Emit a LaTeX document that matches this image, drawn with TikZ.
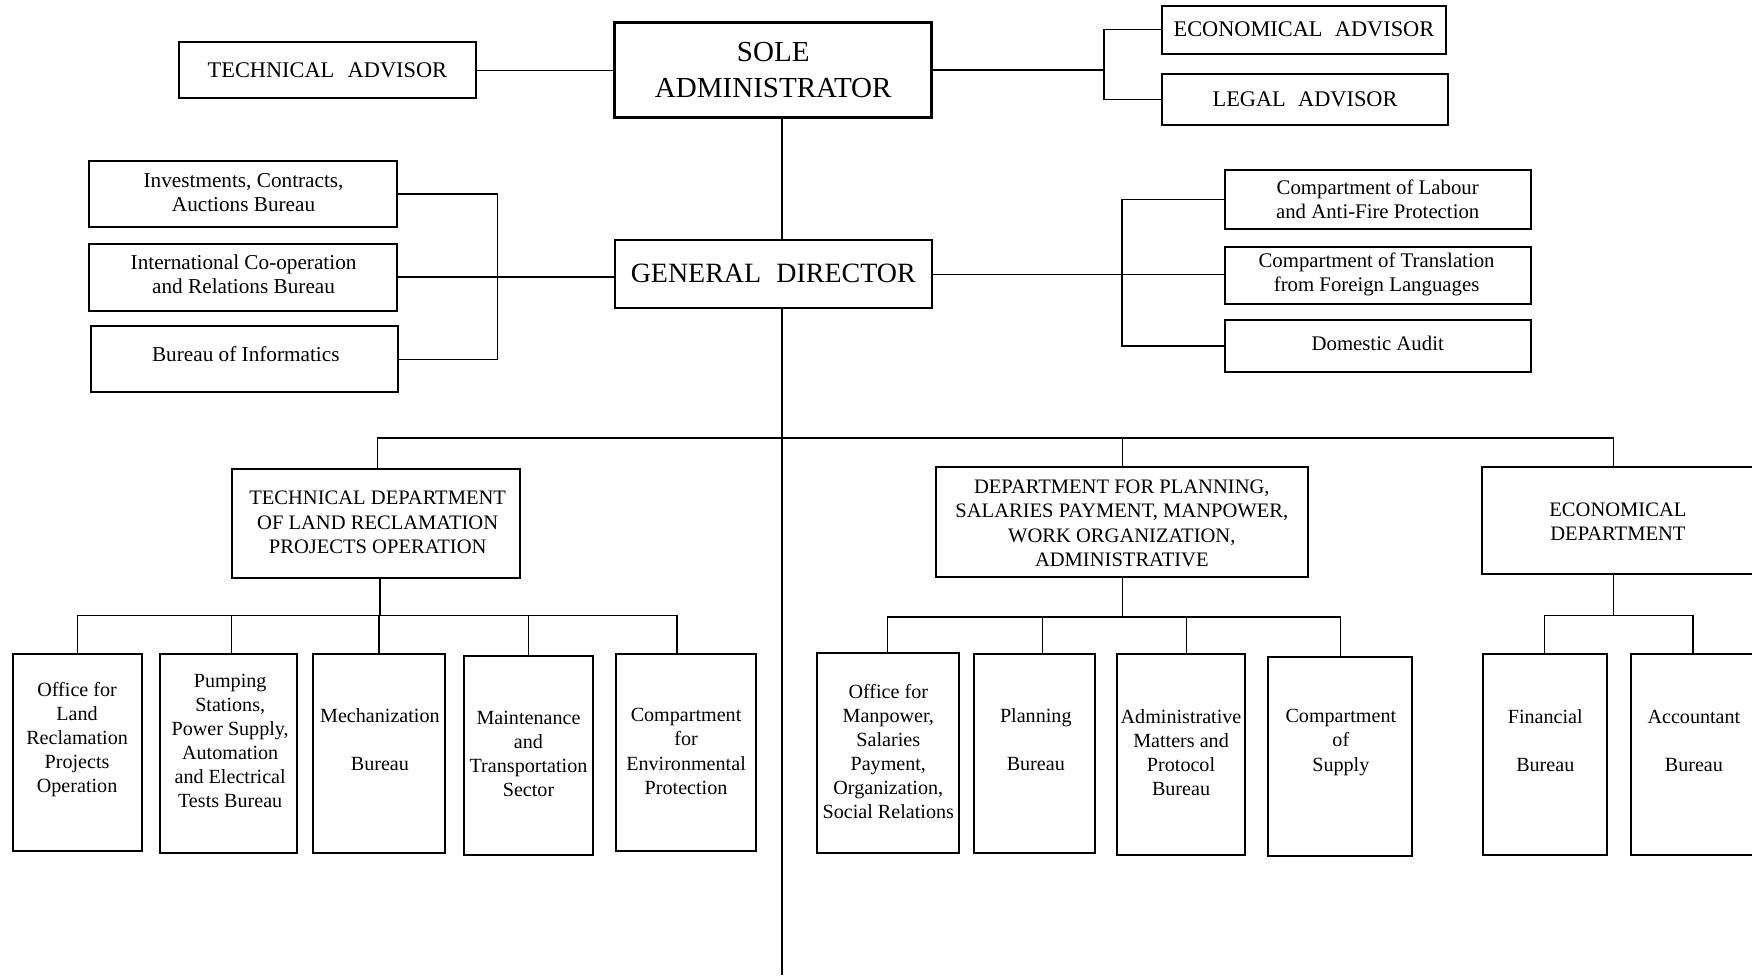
\documentclass[tikz,border=0pt]{standalone}
\usepackage{fontspec}
\setmainfont{Liberation Serif}
\tikzset{
  box/.style={draw, line width=0.9pt, inner sep=0pt, outer sep=0pt},
  bigbox/.style={line width=1.3pt},
  conn/.style={line width=0.65pt},
  tA/.style={font=\fontsize{10}{12}\selectfont, align=center, inner sep=0pt},
  tS/.style={font=\fontsize{13}{16}\selectfont, align=center, inner sep=0pt},
  tG/.style={font=\fontsize{12.5}{15}\selectfont, align=center, inner sep=0pt},
  tM/.style={font=\fontsize{9.5}{10.5}\selectfont, align=center, inner sep=0pt},
  tR/.style={font=\fontsize{9.3}{10.5}\selectfont, align=center, inner sep=0pt},
  tD/.style={font=\fontsize{9.2}{10.9}\selectfont, align=center, inner sep=0pt},
  tB/.style={font=\fontsize{9}{10.75}\selectfont, align=center, inner sep=0pt},
}
\newcommand{\obox}[6]{%
  \node[box,#6,minimum width={(#4-#2)*0.5pt},minimum height={(#5-#3)*0.5pt}] (#1) at ({(#2+#4)/2},{(#3+#5)/2}) {};}
\newcommand{\otext}[5]{\node[#4] (#1) at (#2,#3) {#5};}
\begin{document}
\begin{tikzpicture}[x=0.5pt,y=-0.5pt]
\useasboundingbox (0,0) rectangle (1568,873);
% top level
\obox{ta}{160}{38}{426}{88}{}
\otext{tat}{293}{63}{tA}{TECHNICAL\hspace{0.35em} ADVISOR}
\obox{sa}{550}{20}{834}{105}{bigbox}
\otext{sat}{692}{63}{tS}{SOLE\\ADMINISTRATOR}
\obox{ea}{1040}{5}{1294}{48}{}
\otext{eat}{1167}{26}{tA}{ECONOMICAL\hspace{0.3em} ADVISOR}
\obox{la}{1040}{66}{1296}{112}{}
\otext{lat}{1168}{89}{tA}{LEGAL\hspace{0.3em} ADVISOR}
\obox{gd}{550}{215}{834}{276}{}
\otext{gdt}{692}{245}{tG}{GENERAL\hspace{0.3em} DIRECTOR}
% left staff
\obox{inv}{80}{144}{355}{203}{}
\otext{invt}{218}{172.5}{tM}{Investments, Contracts,\\Auctions Bureau}
\obox{intl}{80}{218}{355}{278}{}
\otext{intlt}{218}{245.5}{tM}{International Co-operation\\and Relations Bureau}
\obox{binf}{81}{292}{356}{351}{}
\otext{binft}{220}{317}{tM}{Bureau of Informatics}
% right staff
\obox{lab}{1096}{152}{1370}{205}{}
\otext{labt}{1233}{178.5}{tR}{Compartment of Labour\\and Anti-Fire Protection}
\obox{trans}{1096}{221}{1370}{272}{}
\otext{transt}{1232}{245.5}{tR}{Compartment of Translation\\from Foreign Languages}
\obox{daud}{1096}{286}{1370}{333}{}
\otext{daudt}{1233}{307}{tR}{Domestic Audit}
% departments
\obox{td}{208}{420}{465}{517}{}
\otext{tdt}{338}{467.5}{tD}{TECHNICAL DEPARTMENT\\OF LAND RECLAMATION\\PROJECTS OPERATION}
\obox{dp}{838}{418}{1171}{516}{}
\otext{dpt}{1004}{468.5}{tD}{DEPARTMENT FOR PLANNING,\\SALARIES PAYMENT, MANPOWER,\\WORK ORGANIZATION,\\ADMINISTRATIVE}
\obox{ed}{1326}{418}{1584}{514}{}
\otext{edt}{1448}{467}{tD}{ECONOMICAL\\DEPARTMENT}
% technical children
\obox{c1}{12}{585}{127}{762}{}
\otext{c1t}{69}{662}{tB}{Office for\\Land\\Reclamation\\Projects\\Operation}
\obox{c2}{143}{585}{266}{763}{}
\otext{c2t}{206}{663.5}{tB}{Pumping\\Stations,\\Power Supply,\\Automation\\and Electrical\\Tests Bureau}
\obox{c3}{280}{585}{398}{763}{}
\otext{c3t}{340}{662}{tB}{Mechanization\\[11pt]Bureau}
\obox{c4}{415}{587}{531}{765}{}
\otext{c4t}{473}{674.5}{tB}{Maintenance\\and\\Transportation\\Sector}
\obox{c5}{551}{585}{677}{762}{}
\otext{c5t}{614}{672.5}{tB}{Compartment\\for\\Environmental\\Protection}
% planning children
\obox{p1}{731}{584}{858}{763}{}
\otext{p1t}{795}{672.5}{tB}{Office for\\Manpower,\\Salaries\\Payment,\\Organization,\\Social Relations}
\obox{p2}{872}{585}{980}{763}{}
\otext{p2t}{927}{662}{tB}{Planning\\[11pt]Bureau}
\obox{p3}{1000}{585}{1114}{765}{}
\otext{p3t}{1057}{673.5}{tB}{Administrative\\Matters and\\Protocol\\Bureau}
\obox{p4}{1135}{588}{1264}{766}{}
\otext{p4t}{1200}{664.5}{tB}{Compartment\\of\\Supply}
% economical children
\obox{e1}{1327}{585}{1438}{765}{}
\otext{e1t}{1383}{663}{tB}{Financial\\[11pt]Bureau}
\obox{e2}{1460}{585}{1584}{765}{}
\otext{e2t}{1516}{663}{tB}{Accountant\\[11pt]Bureau}
% helper coordinates
\coordinate (mx) at (700,0);
\coordinate (jx) at (988,0);
\coordinate (lx) at (445,0);
\coordinate (rx) at (1004,0);
\coordinate (ex) at (1444,0);
\coordinate (tx) at (338,0);
\coordinate (tdx) at (340,0);
\coordinate (k2) at (207,0);
\coordinate (k5) at (606,0);
\coordinate (q2) at (933,0);
\coordinate (q3) at (1062,0);
\coordinate (e2x) at (1515,0);
\coordinate (hb) at (0,392);
\coordinate (bt) at (700,873);
\coordinate (cb) at (0,551);
\coordinate (pb) at (0,552);
% connectors
\draw[conn] (ta.east) -- (ta.east -| sa.west);
\draw[conn] (sa.east) -- (sa.east -| jx);
\draw[conn] (ea.west) -- (ea.west -| jx) |- (la.west);
\draw[conn] (sa.south -| mx) -- (gd.north -| mx);
\draw[conn] (intl.east) -- (intl.east -| gd.west);
\draw[conn] (inv.east) -- (inv.east -| lx) |- (binf.east);
\draw[conn] (gd.east) -- (gd.east -| trans.west);
\draw[conn] (lab.west) -- (lab.west -| rx) |- (daud.west);
\draw[conn] (gd.south -| mx) -- (bt);
\draw[conn] (td.north -| tx) -- (hb -| tx) -- (hb -| ex) -- (ed.north -| ex);
\draw[conn] (dp.north) -- (dp.north |- hb);
% technical tree
\draw[conn] (td.south -| tdx) -- (cb -| tdx);
\draw[conn] (c1.north) -- (c1.north |- cb) -- (cb -| k5) -- (c5.north -| k5);
\draw[conn] (c2.north -| k2) -- (cb -| k2);
\draw[conn] (c3.north) -- (c3.north |- cb);
\draw[conn] (c4.north) -- (c4.north |- cb);
% planning tree
\draw[conn] (dp.south) -- (dp.south |- pb);
\draw[conn] (p1.north) -- (p1.north |- pb) -- (p4.north |- pb) -- (p4.north);
\draw[conn] (p2.north -| q2) -- (pb -| q2);
\draw[conn] (p3.north -| q3) -- (pb -| q3);
% economical tree
\draw[conn] (ed.south -| ex) -- (cb -| ex);
\draw[conn] (e1.north) -- (e1.north |- cb) -- (cb -| e2x) -- (e2.north -| e2x);
\end{tikzpicture}
\end{document}
